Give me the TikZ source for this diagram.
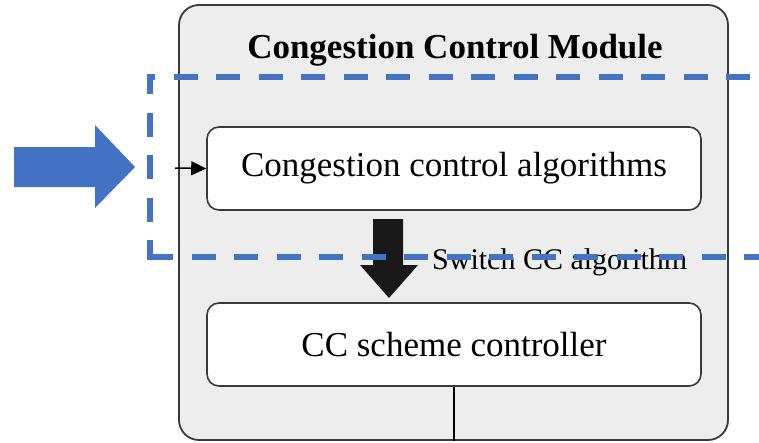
\documentclass[tikz,border=0pt]{standalone}
\usepackage{fontspec}
\setmainfont{Liberation Serif}
\usetikzlibrary{arrows.meta}
\definecolor{modfill}{HTML}{EDEDED}
\definecolor{edge}{HTML}{3A3A3A}
\definecolor{accent}{HTML}{4472C4}
\tikzset{
  module/.style={draw=edge, line width=1.8pt, fill=modfill, rounded corners=20pt,
    minimum width=549pt, minimum height=435pt, inner sep=0pt},
  unit/.style={draw=edge, line width=1.6pt, fill=white, rounded corners=12pt,
    minimum width=494pt, minimum height=83pt, inner sep=0pt, font=\fontsize{35}{40}\selectfont},
  region/.style={draw=accent, line width=6pt, line cap=butt, dash pattern=on 24pt off 18.5pt}
}
\begin{document}
\begin{tikzpicture}[x=1pt,y=-1pt]
\useasboundingbox (0,0) rectangle (759,442);
% module frame and its two units
\node[module] (mod) at (453.5,222.5) {};
\node[font=\bfseries\fontsize{35}{40}\selectfont, anchor=base, inner sep=0pt] (title) at (455,58) {Congestion Control Module};
\node[unit] (algs) at (454,168.5) {Congestion control algorithms};
\node[unit] (ctrl) at (454,344.5) {CC scheme controller};
% switching arrow between units
\fill[black!90] (373,219) -- (403,219) -- (403,265) -- (418,265) -- (389,298) -- (360,265) -- (373,265) -- cycle;
\node[font=\fontsize{30}{34}\selectfont, anchor=base west, inner sep=0pt] (sw) at (432,269) {Switch CC algorithm};
% input into the algorithms unit
\coordinate (in) at (175,168);
\draw[line width=1.5pt, -{Triangle[length=15pt,width=14pt]}] (in) -- (algs.west);
% output line from the controller
\draw[line width=1.6pt, black] (ctrl.south) -- (ctrl.south |- mod.south);
% external blue arrow
\fill[accent] (14,147) -- (95,147) -- (95,125) -- (135,167) -- (95,208) -- (95,187) -- (14,187) -- cycle;
% highlighted region, each side dashed on its own
\coordinate (rtl) at (147,77);
\coordinate (rtr) at (759,77);
\coordinate (rl1) at (150,77);
\coordinate (rl2) at (150,260);
\coordinate (rbl) at (147,257);
\coordinate (rbr) at (759,257);
\draw[region, dash phase=16pt] (rtl) -- (rtr);
\draw[region, dash phase=7pt] (rl1) -- (rl2);
\draw[region, dash phase=40.5pt] (rbl) -- (rbr);
\end{tikzpicture}
\end{document}
